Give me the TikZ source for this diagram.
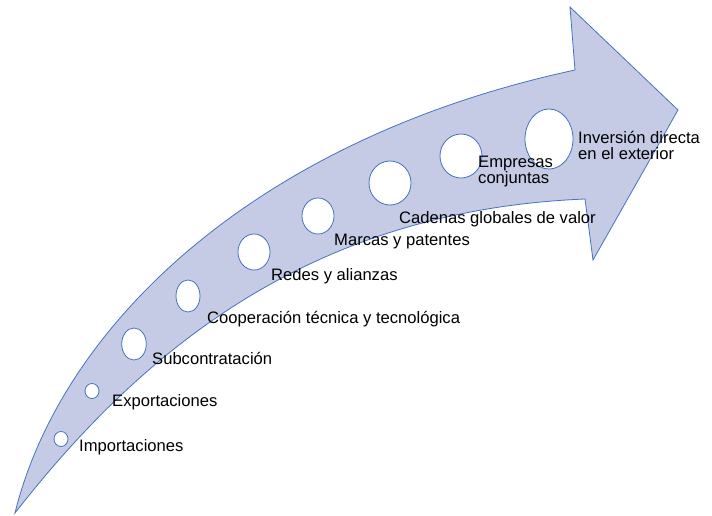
\documentclass[tikz,border=0pt]{standalone}
\usepackage{fontspec}
\setmainfont{Liberation Sans}
\usetikzlibrary{shapes.geometric}
\definecolor{arrowfill}{RGB}{197,203,229}
\definecolor{arrowline}{RGB}{68,114,196}
\begin{document}
\begin{tikzpicture}[x=1pt,y=-1pt,
  dot/.style={draw=arrowline,fill=white,line width=0.8pt,ellipse,inner sep=0pt},
  lbl/.style={anchor=base west,inner sep=0pt,font=\fontsize{16.6}{16}\selectfont,align=left}]
\useasboundingbox (0,0) rectangle (712,515);
% arrow
\draw[fill=arrowfill,draw=arrowline,line width=0.8pt]
  (15,513) .. controls (60,330) and (250,140) .. (575,70)
  -- (570,7) -- (678,110) -- (593,260) -- (585,199)
  .. controls (320,210) and (150,340) .. (15,513) -- cycle;
% circles
\node[dot,minimum width=14pt,minimum height=15pt] (c1) at (61,439) {};
\node[dot,minimum width=14pt,minimum height=15pt] (c2) at (92,391) {};
\node[dot,minimum width=24.6pt,minimum height=32pt] (c3) at (134,344) {};
\node[dot,minimum width=24pt,minimum height=32pt] (c4) at (188,296) {};
\node[dot,minimum width=32pt,minimum height=36pt] (c5) at (254,252) {};
\node[dot,minimum width=32pt,minimum height=36pt] (c6) at (318,216) {};
\node[dot,minimum width=42pt,minimum height=44pt] (c7) at (390,183) {};
\node[dot,minimum width=42pt,minimum height=44pt] (c8) at (461,156) {};
\node[dot,minimum width=48pt,minimum height=60pt] (c9) at (549,139) {};
% labels
\node[lbl] (t1) at (79,451) {Importaciones};
\node[lbl] (t2) at (112,406) {Exportaciones};
\node[lbl] (t3) at (152,364) {Subcontratación};
\node[lbl] (t4) at (207,323) {Cooperación técnica y tecnológica};
\node[lbl] (t5) at (271,280) {Redes y alianzas};
\node[lbl] (t6) at (334,245) {Marcas y patentes};
\node[lbl] (t7) at (399,223) {Cadenas globales de valor};
\node[lbl] (t8) at (478,183) {Empresas\\conjuntas};
\node[lbl] (t9) at (578,159) {Inversión directa\\en el exterior};
\end{tikzpicture}
\end{document}
